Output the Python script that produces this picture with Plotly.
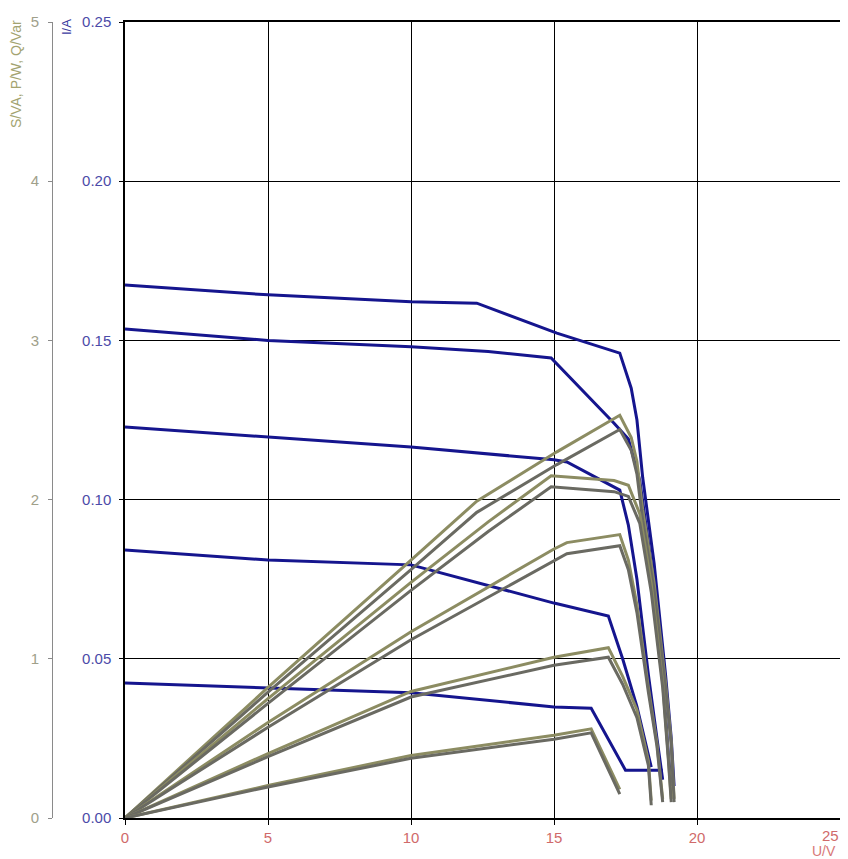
import plotly.graph_objects as go

# ---------------- data ----------------
# Current curves I(U)
u_a = [0, 5, 10, 12.3, 15.1, 17.3, 17.7, 17.9, 18.1, 18.5, 18.9, 19.1, 19.2]
i_a = [0.1674, 0.1643, 0.1621, 0.1617, 0.1523, 0.1460, 0.1350, 0.1250, 0.1070, 0.0800, 0.0450, 0.0250, 0.0100]
u_b = [0, 5, 10, 12.7, 14.9, 17.1, 17.6, 18.0, 18.4, 18.8, 19.0, 19.1]
i_b = [0.1536, 0.1500, 0.1480, 0.1465, 0.1445, 0.1240, 0.1190, 0.1060, 0.0800, 0.0450, 0.0200, 0.0100]
u_c = [0, 5, 10, 15, 15.45, 17.3, 17.6, 17.9, 18.3, 18.6, 18.8]
i_c = [0.1228, 0.1197, 0.1165, 0.1125, 0.1118, 0.1030, 0.0920, 0.0750, 0.0450, 0.0250, 0.0120]
u_d = [0, 5, 10, 15, 16.9, 17.4, 17.9, 18.3, 18.4]
i_d = [0.0842, 0.0810, 0.0795, 0.0675, 0.0634, 0.0500, 0.0350, 0.0190, 0.0160]
u_e = [0, 5, 10, 15, 16.3, 17.5, 18.8]
i_e = [0.0424, 0.0408, 0.0393, 0.0349, 0.0345, 0.0150, 0.0150]

# Power curves: S (olive) and P (grey)
s_a = [0, 0.82, 1.62, 1.99, 2.30, 2.53, 2.39, 2.24, 1.94, 1.48, 0.85, 0.48, 0.12]
p_a = [0, 0.79, 1.56, 1.92, 2.22, 2.44, 2.31, 2.16, 1.87, 1.43, 0.82, 0.46, 0.10]
s_b = [0, 0.75, 1.48, 1.86, 2.15, 2.12, 2.09, 1.91, 1.47, 0.85, 0.38, 0.12]
p_b = [0, 0.72, 1.43, 1.80, 2.08, 2.05, 2.02, 1.85, 1.42, 0.82, 0.36, 0.10]
s_c = [0, 0.60, 1.17, 1.69, 1.73, 1.78, 1.62, 1.34, 0.82, 0.47, 0.12]
p_c = [0, 0.57, 1.12, 1.62, 1.66, 1.71, 1.56, 1.29, 0.79, 0.45, 0.10]
s_d = [0, 0.405, 0.795, 1.01, 1.07, 0.89, 0.68, 0.36, 0.11]
p_d = [0, 0.385, 0.760, 0.96, 1.01, 0.84, 0.63, 0.33, 0.08]
u_pe = [0, 5, 10, 15, 16.3, 17.3]
s_e = [0, 0.204, 0.393, 0.52, 0.56, 0.18]
p_e = [0, 0.195, 0.375, 0.495, 0.535, 0.15]

x_ticks = [0, 5, 10, 15, 20, 25]
i_ticks = [0.00, 0.05, 0.10, 0.15, 0.20, 0.25]
p_ticks = [0, 1, 2, 3, 4, 5]

# ---------------- figure ----------------
BLUE = "#15158e"
OLIVE = "#8c8c62"
GREY = "#6a6a62"

fig = go.Figure()

power_sets = [(u_a, s_a, p_a), (u_b, s_b, p_b), (u_c, s_c, p_c),
              (u_d, s_d, p_d), (u_pe, s_e, p_e)]
for uu, ss, pp in power_sets:
    fig.add_trace(go.Scatter(x=uu, y=ss, yaxis="y2", mode="lines",
                             line=dict(color=OLIVE, width=3), showlegend=False))
    fig.add_trace(go.Scatter(x=uu, y=pp, yaxis="y2", mode="lines",
                             line=dict(color=GREY, width=3), showlegend=False))

for uu, ii in [(u_a, i_a), (u_b, i_b), (u_c, i_c), (u_d, i_d), (u_e, i_e)]:
    fig.add_trace(go.Scatter(x=uu, y=ii, mode="lines",
                             line=dict(color=BLUE, width=3), showlegend=False))

# page body has an 8px margin: figure is drawn at (8, 8)
OFF = 8
W, H = 848 - OFF, 859 - OFF
L, R, T = 0, 8, 22 - OFF
B = H - (818 - OFF)
plot_w = W - L - R  # 832


def px(x_ref):
    return (x_ref - OFF - L) / plot_w


def py(y_ref):
    return (818 - y_ref) / 796


X_TICK_COLOR = "#d06a6a"
last_x = x_ticks[-1]

fig.update_layout(
    width=W, height=H,
    margin=dict(l=L, r=R, t=T, b=B, autoexpand=False),
    paper_bgcolor="white", plot_bgcolor="white",
    font=dict(family="Liberation Sans, Arial, sans-serif", size=15),
    xaxis=dict(domain=[px(125), 1], range=[0, 25], tickvals=x_ticks,
               # the edge label is drawn as an annotation so it is not clipped
               ticktext=[str(v) if v != last_x else "" for v in x_ticks],
               showgrid=True, gridcolor="black", gridwidth=1,
               showline=True, linecolor="black", linewidth=1.5, mirror=True,
               ticks="outside", ticklen=5, tickcolor="black",
               tickfont=dict(color=X_TICK_COLOR, size=15), zeroline=False,
               automargin=False),
    yaxis=dict(range=[0, 0.25], tickvals=i_ticks,
               ticktext=["%.2f" % v for v in i_ticks],
               showgrid=True, gridcolor="black", gridwidth=1,
               showline=True, linecolor="black", linewidth=1.5, mirror=True,
               ticks="outside", ticklen=4, tickcolor="black",
               ticklabelstandoff=5,
               tickfont=dict(color="#4b4ba8", size=15), zeroline=False,
               automargin=False),
    yaxis2=dict(range=[0, 5], tickvals=p_ticks,
                ticktext=[str(v) for v in p_ticks],
                overlaying="y", anchor="free", side="left",
                position=px(52), showgrid=False, zeroline=False,
                showline=True, linecolor="#8a8a8a", linewidth=1,
                ticks="outside", ticklen=4, tickcolor="#8a8a8a",
                ticklabelstandoff=6,
                tickfont=dict(color="#a0a08a", size=15), automargin=False),
)

fig.add_annotation(text=str(last_x), xref="x", yref="paper",
                   x=last_x, y=py(835), showarrow=False,
                   font=dict(color=X_TICK_COLOR, size=15),
                   xanchor="right", yanchor="middle", xshift=1)
fig.add_annotation(text="S/VA, P/W, Q/Var", xref="paper", yref="paper",
                   x=px(16), y=py(74), textangle=-90, showarrow=False,
                   font=dict(color="#a3a370", size=14), xanchor="center", yanchor="middle")
fig.add_annotation(text="I/A", xref="paper", yref="paper",
                   x=px(66), y=py(27), textangle=-90, showarrow=False,
                   font=dict(color="#3c3ca0", size=13), xanchor="center", yanchor="middle")
fig.add_annotation(text="U/V", xref="paper", yref="paper",
                   x=px(824), y=py(851), showarrow=False,
                   font=dict(color="#d87878", size=14), xanchor="center", yanchor="middle")

fig.write_html("out.html")
